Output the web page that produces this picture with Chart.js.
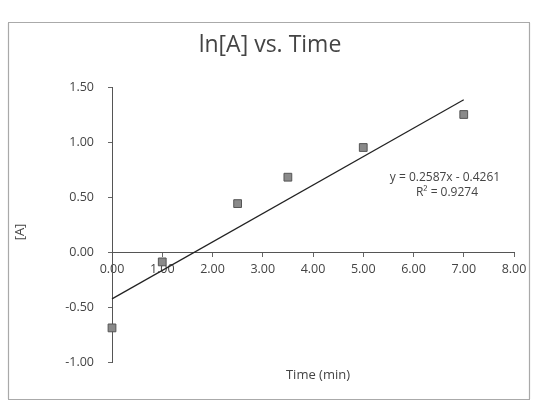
<!DOCTYPE html>
<html>
<head>
<meta charset="utf-8">
<script src="https://cdn.jsdelivr.net/npm/chart.js@4/dist/chart.umd.min.js"></script>
<style>
  html, body { margin: 0; padding: 0; background: #fff; }
  #wrap { width: 534px; height: 403px; }
</style>
</head>
<body>
<div id="wrap"><canvas id="lnChart" width="534" height="403"></canvas></div>
<script>
// data
const times = [0, 1, 2.5, 3.5, 5, 7];
const lnA = [-0.69, -0.09, 0.44, 0.68, 0.95, 1.25];
const slope = 0.2587;
const intercept = -0.4261;
const rSquared = 0.9274;
const trendX = [0, 7];
const xTicks = [0, 1, 2, 3, 4, 5, 6, 7, 8];
const yTicks = [-1, -0.5, 0, 0.5, 1, 1.5];

const fontFam = "'Open Sans', sans-serif";
const textColor = '#444';

const points = times.map((t, i) => ({ x: t, y: lnA[i] }));
const trend = trendX.map(t => ({ x: t, y: slope * t + intercept }));

// frame, title, axis titles and the trendline label
const extras = {
  id: 'extras',
  beforeDraw(chart) {
    const c = chart.ctx;
    c.save();
    c.fillStyle = '#fff';
    c.fillRect(0, 0, chart.width, chart.height);
    c.strokeStyle = '#555';
    c.lineWidth = 1.2;
    c.setLineDash([1, 1]);
    c.strokeRect(8.5, 22.5, 521, 377);
    c.restore();
  },
  afterDraw(chart) {
    const c = chart.ctx;
    c.save();
    c.fillStyle = textColor;
    c.textAlign = 'center';
    c.textBaseline = 'middle';
    c.font = '23px ' + fontFam;
    c.fillText('ln[A] vs. Time', 270, 45);
    c.font = '13px ' + fontFam;
    c.fillText('Time (min)', 318, 375);
    c.font = '12px ' + fontFam;
    const sign = intercept < 0 ? ' - ' : ' + ';
    c.fillText('y = ' + slope.toFixed(4) + 'x' + sign + Math.abs(intercept).toFixed(4), 445, 178);
    c.fillText('R\u00B2 = ' + rSquared.toFixed(4), 447, 193);
    c.translate(20, 232);
    c.rotate(-Math.PI / 2);
    c.font = '13px ' + fontFam;
    c.fillText('[A]', 0, 0);
    c.restore();
  }
};

new Chart(document.getElementById('lnChart'), {
  type: 'scatter',
  data: {
    datasets: [
      {
        label: 'ln[A]',
        data: points,
        pointStyle: 'rect',
        pointRadius: 5.5,
        backgroundColor: '#8a8a8a',
        borderColor: '#555',
        borderWidth: 1,
        clip: false
      },
      {
        label: 'Linear',
        type: 'line',
        data: trend,
        borderColor: '#222',
        borderWidth: 1.2,
        pointRadius: 0,
        fill: false,
        clip: false
      }
    ]
  },
  options: {
    responsive: false,
    animation: false,
    layout: { padding: { left: 62, right: 20, top: 87, bottom: 41 } },
    plugins: {
      legend: { display: false },
      tooltip: { enabled: false },
      title: { display: false }
    },
    scales: {
      x: {
        type: 'linear',
        min: 0,
        max: 8,
        position: { y: 0 },
        afterBuildTicks: s => { s.ticks = xTicks.map(v => ({ value: v })); },
        grid: { drawOnChartArea: false, drawTicks: true, tickLength: 4, color: '#666' },
        border: { display: true, color: '#555', dash: [2, 2] },
        ticks: {
          color: textColor,
          font: { family: fontFam, size: 12.5 },
          padding: 6,
          callback: v => v.toFixed(2)
        }
      },
      y: {
        type: 'linear',
        min: -1,
        max: 1.5,
        position: 'left',
        afterBuildTicks: s => { s.ticks = yTicks.map(v => ({ value: v })); },
        afterFit: s => { s.width = 50; },
        grid: { drawOnChartArea: false, drawTicks: true, tickLength: 4, color: '#666' },
        border: { display: true, color: '#555', dash: [2, 2] },
        ticks: {
          color: textColor,
          font: { family: fontFam, size: 12.5 },
          padding: 14,
          callback: v => v.toFixed(2)
        }
      }
    }
  },
  plugins: [extras]
});
</script>
</body>
</html>
